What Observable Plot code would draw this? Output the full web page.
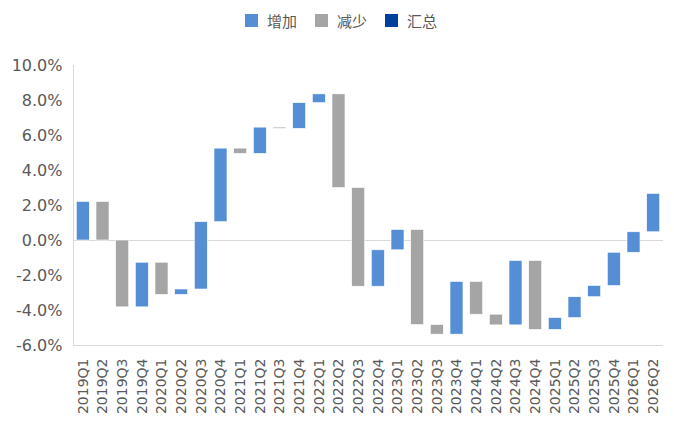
<!DOCTYPE html>
<html>
<head>
<meta charset="utf-8">
<script src="https://cdn.jsdelivr.net/npm/d3@7"></script>
<script src="https://cdn.jsdelivr.net/npm/@observablehq/plot@0.6"></script>
<style>
  html, body { margin: 0; padding: 0; background: #fff; }
  #legend { height: 30px; display: flex; justify-content: center; align-items: center; padding-left: 8px; box-sizing: border-box; padding-top: 11px;
            font-family: "Noto Sans CJK SC", sans-serif; font-size: 15px; color: #595959; }
  .item { display: flex; align-items: center; margin: 0 9px; }
  .sw { width: 13px; height: 13px; margin-right: 9px; }
</style>
</head>
<body>
<div id="legend"></div>
<div id="chart"></div>
<script>
const quarters = ["2019Q1","2019Q2","2019Q3","2019Q4","2020Q1","2020Q2","2020Q3","2020Q4",
  "2021Q1","2021Q2","2021Q3","2021Q4","2022Q1","2022Q2","2022Q3","2022Q4",
  "2023Q1","2023Q2","2023Q3","2023Q4","2024Q1","2024Q2","2024Q3","2024Q4",
  "2025Q1","2025Q2","2025Q3","2025Q4","2026Q1","2026Q2"];
// cumulative level (%) at end of each quarter; each bar runs from previous level to this one
const levels = [2.2, 0, -3.82, -1.27, -3.11, -2.8, 1.05, 5.25,
  4.95, 6.45, 6.38, 7.85, 8.35, 3.0, -2.64, -0.56,
  0.6, -4.83, -5.38, -2.37, -4.24, -4.85, -1.17, -5.11,
  -4.43, -3.24, -2.6, -0.7, 0.47, 2.66];
const seriesNames = ["增加", "减少", "汇总"];
const seriesColors = ["#558ed5", "#a5a5a5", "#003f9c"];
const yTicks = [-6, -4, -2, 0, 2, 4, 6, 8, 10];

const rows = quarters.map((q, i) => {
  const start = i === 0 ? 0 : levels[i - 1];
  const end = levels[i];
  return { q, start, end, type: end >= start ? seriesNames[0] : seriesNames[1] };
});

const legend = document.getElementById("legend");
seriesNames.forEach((n, i) => {
  const it = document.createElement("div");
  it.className = "item";
  it.innerHTML = `<div class="sw" style="background:${seriesColors[i]}"></div><span>${n}</span>`;
  legend.appendChild(it);
});

const chart = Plot.plot({
  width: 674,
  height: 391,
  marginTop: 35,
  marginBottom: 76,
  marginLeft: 73,
  marginRight: 11,
  style: { fontFamily: "DejaVu Sans, sans-serif", color: "#595959", background: "#fff" },
  x: { domain: quarters, paddingInner: 0.34, paddingOuter: 0.17, round: false, label: null, tickSize: 0 },
  y: { domain: [-6, 10], ticks: yTicks, label: null, tickSize: 0 },
  color: { domain: seriesNames, range: seriesColors },
  marks: [
    Plot.ruleY([0], { stroke: "#d9d9d9", strokeWidth: 1 }),
    Plot.ruleY([-6], { stroke: "#d9d9d9", strokeWidth: 1 }),
    Plot.barY(rows, { x: "q", y1: "start", y2: "end", fill: "type", stroke: "white", strokeWidth: 0.6 }),
    Plot.axisY({ ticks: yTicks, tickSize: 0, tickPadding: 11, tickFormat: d => d.toFixed(1) + "%", fontSize: 16, fill: "#595959" }),
    Plot.axisX({ tickSize: 0, tickRotate: -90, tickPadding: 13, fontSize: 14, fill: "#595959" })
  ]
});
// left axis line
const svg = d3.select(chart);
svg.append("line").attr("x1", 73.5).attr("x2", 73.5).attr("y1", 35).attr("y2", 315).attr("stroke", "#d9d9d9");
document.getElementById("chart").appendChild(chart);
</script>
</body>
</html>
